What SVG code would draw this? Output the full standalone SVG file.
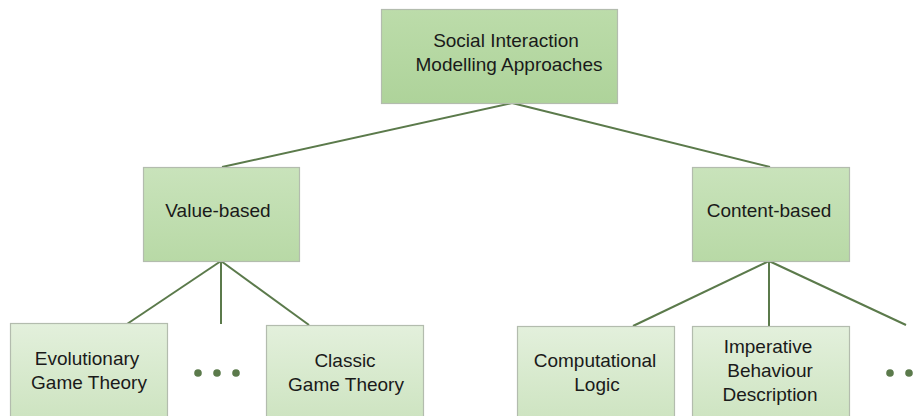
<svg xmlns="http://www.w3.org/2000/svg" width="923" height="416" viewBox="0 0 923 416">
<defs>
<linearGradient id="gTop" x1="0" y1="0" x2="0" y2="1">
<stop offset="0" stop-color="#bcdcaa"/>
<stop offset="1" stop-color="#aed39a"/>
</linearGradient>
<linearGradient id="gMid" x1="0" y1="0" x2="0" y2="1">
<stop offset="0" stop-color="#c9e3bb"/>
<stop offset="1" stop-color="#b8d9a6"/>
</linearGradient>
<linearGradient id="gLeaf" x1="0" y1="0" x2="0" y2="1">
<stop offset="0" stop-color="#e3f0dc"/>
<stop offset="1" stop-color="#cce3bf"/>
</linearGradient>
</defs>
<style>
.box{stroke:#b3bcae;stroke-width:1.2}
.top{fill:url(#gTop)}
.mid{fill:url(#gMid)}
.leaf{fill:url(#gLeaf)}
.t{font-family:"Liberation Sans",Arial,sans-serif;font-size:19px;fill:#1a1a1a;text-anchor:middle}
.c{stroke:#5b7a4b;stroke-width:2;fill:none}
.dot{fill:#5b7a4b}
</style>
<g id="connectors">
<line class="c" x1="512" y1="103" x2="222" y2="167"/>
<line class="c" x1="512" y1="103" x2="770" y2="167"/>
<line class="c" x1="221" y1="261" x2="127" y2="324"/>
<line class="c" x1="221" y1="261" x2="221" y2="324"/>
<line class="c" x1="221" y1="261" x2="309" y2="325"/>
<line class="c" x1="769" y1="261" x2="633" y2="326"/>
<line class="c" x1="769" y1="261" x2="769" y2="326"/>
<line class="c" x1="769" y1="261" x2="906" y2="325"/>
</g>
<g id="root">
<rect class="box top" x="381.5" y="9.5" width="236" height="94"/>
<text class="t" x="506" y="47">Social Interaction</text>
<text class="t" x="509" y="71">Modelling Approaches</text>
</g>
<g id="value-based">
<rect class="box mid" x="143.5" y="167.5" width="156" height="94"/>
<text class="t" x="218" y="217">Value-based</text>
</g>
<g id="content-based">
<rect class="box mid" x="692.5" y="167.5" width="157" height="94"/>
<text class="t" x="769" y="217">Content-based</text>
</g>
<g id="evolutionary">
<rect class="box leaf" x="10.5" y="323.5" width="157" height="100"/>
<text class="t" x="87" y="365">Evolutionary</text>
<text class="t" x="89" y="389">Game Theory</text>
</g>
<g id="dots-left">
<circle class="dot" cx="198" cy="373" r="3.8"/>
<circle class="dot" cx="217" cy="373" r="3.8"/>
<circle class="dot" cx="236" cy="373" r="3.8"/>
</g>
<g id="classic">
<rect class="box leaf" x="266.5" y="325.5" width="157" height="100"/>
<text class="t" x="345" y="367">Classic</text>
<text class="t" x="346" y="391">Game Theory</text>
</g>
<g id="computational">
<rect class="box leaf" x="517.5" y="326.5" width="157" height="100"/>
<text class="t" x="595" y="367">Computational</text>
<text class="t" x="597" y="391">Logic</text>
</g>
<g id="imperative">
<rect class="box leaf" x="692.5" y="326.5" width="157" height="100"/>
<text class="t" x="768" y="353">Imperative</text>
<text class="t" x="770" y="377">Behaviour</text>
<text class="t" x="770" y="401">Description</text>
</g>
<g id="dots-right">
<circle class="dot" cx="890" cy="373" r="3.8"/>
<circle class="dot" cx="909" cy="373" r="3.8"/>
</g>
</svg>
